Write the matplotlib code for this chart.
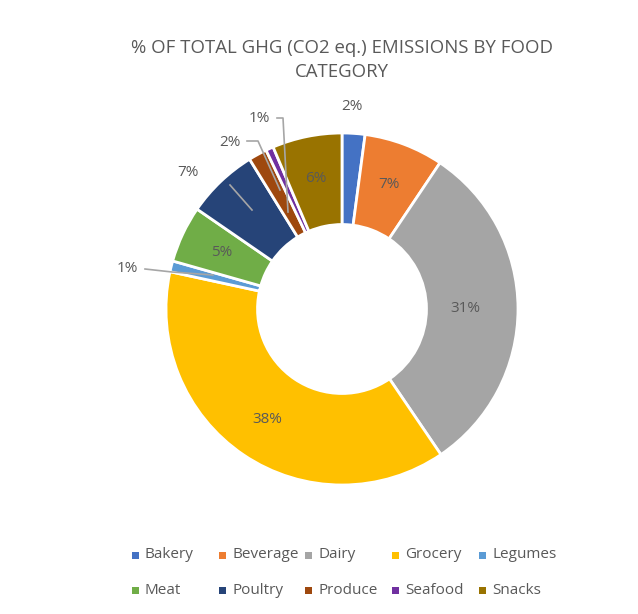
import matplotlib
matplotlib.use("Agg")
import matplotlib.pyplot as plt
import numpy as np
from matplotlib.patches import Rectangle

categories = ["Bakery", "Beverage", "Dairy", "Grocery", "Legumes",
              "Meat", "Poultry", "Produce", "Seafood", "Snacks"]
values = [2.1, 7.3, 31.1, 37.9, 1.0, 5.2, 6.6, 1.7, 0.7, 6.4]
colors = ["#4472C4", "#ED7D31", "#A5A5A5", "#FFC000", "#5B9BD5",
          "#70AD47", "#264478", "#9E480E", "#7030A0", "#997300"]
title = "% OF TOTAL GHG (CO2 eq.) EMISSIONS BY FOOD\nCATEGORY"

TXT = "#595959"
LINE = "#A6A6A6"
plt.rcParams['font.family'] = ['Open Sans', 'DejaVu Sans']

W, H = 638, 614
fig = plt.figure(figsize=(W / 100, H / 100), dpi=100)
cx, cy, R = 342, 309, 176
ax = fig.add_axes([(cx - R) / W, (H - cy - R) / H, 2 * R / W, 2 * R / H])

wedges, _ = ax.pie(values, colors=colors, startangle=90, counterclock=False,
                   radius=1, wedgeprops=dict(width=0.52, edgecolor='white', linewidth=2))
ax.set_xlim(-1, 1)
ax.set_ylim(-1, 1)
ax.set_aspect('equal')
ax.axis('off')

def px2d(px, py):
    return ((px - cx) / R, (cy - py) / R)

# outside label positions (pixels) and leader-line paths
outside = {
    "Bakery": dict(pos=(352, 106), path=None),
    "Legumes": dict(pos=(127, 269), path=[(145, 269), (172, 272), (213, 275)]),
    "Poultry": dict(pos=(188, 172), path=[(230, 185), (252, 210)]),
    "Produce": dict(pos=(230, 142), path=[(247, 141), (258, 141), (280, 190)]),
    "Seafood": dict(pos=(259, 118), path=[(277, 118), (283, 118), (288, 212)]),
}

total = sum(values)
for w, cat, v in zip(wedges, categories, values):
    lab = f"{v / total * 100:.0f}%"
    if cat in outside:
        o = outside[cat]
        x, y = px2d(*o["pos"])
        ax.text(x, y, lab, ha='center', va='center', fontsize=11, color=TXT, clip_on=False)
        if o["path"]:
            pts = np.array([px2d(*p) for p in o["path"]])
            ax.plot(pts[:, 0], pts[:, 1], color=LINE, lw=1.2, clip_on=False, zorder=5)
    else:
        ang = np.deg2rad((w.theta1 + w.theta2) / 2)
        r = 0.70 if cat == "Dairy" else 0.755
        ax.text(r * np.cos(ang), r * np.sin(ang), lab, ha='center', va='center',
                fontsize=11, color=TXT)

fig.text(cx / W, 1 - 60 / H, title, ha='center', va='center', fontsize=13.4,
         color=TXT, linespacing=1.45)

# legend: 2 rows x 5 columns
col_x = [135, 222, 308, 395, 482]
row_y = [555, 590]
for i, (cat, c) in enumerate(zip(categories, colors)):
    row, col = divmod(i, 5)
    mx, my = col_x[col], row_y[row]
    s = 7
    fig.add_artist(Rectangle(((mx - s / 2) / W, 1 - (my + s / 2) / H), s / W, s / H,
                             transform=fig.transFigure, facecolor=c, edgecolor='none'))
    fig.text((mx + 10) / W, 1 - my / H, cat, ha='left', va='center', fontsize=11, color=TXT)

fig.savefig("out.png", dpi=100)
